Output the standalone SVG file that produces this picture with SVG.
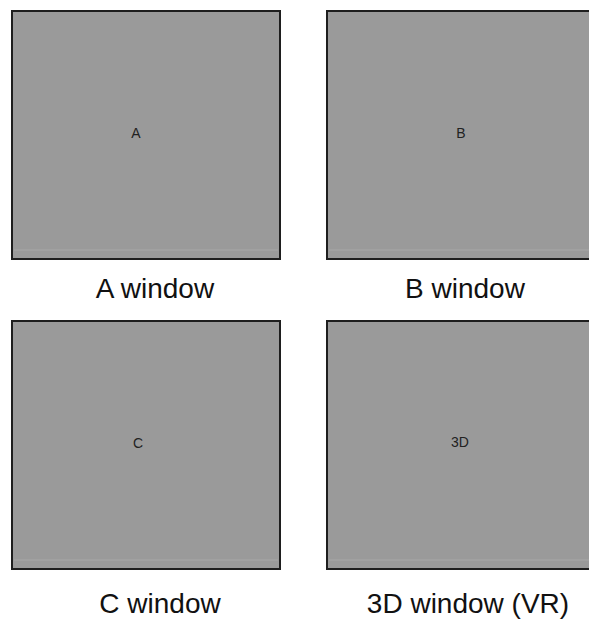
<svg xmlns="http://www.w3.org/2000/svg" width="589" height="622" viewBox="0 0 589 622">
<style>
.panel{fill:#9a9a9a;stroke:#1e1e1e;stroke-width:2}
.inner{fill:none;stroke:#a8a8a8;stroke-width:1}
.lbl{font-family:"Liberation Sans",Arial,sans-serif;font-size:28px;fill:#111;text-anchor:middle}
.mark{font-family:"Liberation Sans",Arial,sans-serif;font-size:14px;fill:#222;text-anchor:middle}
</style>
<rect width="589" height="622" fill="#ffffff"/>
<g id="window-a">
<rect class="panel" x="12" y="11" width="268" height="248"/>
<line class="inner" x1="14" y1="250" x2="278" y2="250"/>
<text class="mark" x="136" y="138">A</text>
<text class="lbl" x="155" y="298">A window</text>
</g>
<g id="window-b">
<rect class="panel" x="327" y="11" width="270" height="248"/>
<line class="inner" x1="329" y1="250" x2="589" y2="250"/>
<text class="mark" x="461" y="138">B</text>
<text class="lbl" x="465" y="298">B window</text>
</g>
<g id="window-c">
<rect class="panel" x="12" y="321" width="268" height="248"/>
<line class="inner" x1="14" y1="560" x2="278" y2="560"/>
<text class="mark" x="138" y="448">C</text>
<text class="lbl" x="160" y="613">C window</text>
</g>
<g id="window-3d">
<rect class="panel" x="327" y="321" width="270" height="248"/>
<line class="inner" x1="329" y1="560" x2="589" y2="560"/>
<text class="mark" x="460" y="447">3D</text>
<text class="lbl" x="468" y="613">3D window (VR)</text>
</g>
<g id="connectors"></g>
</svg>
